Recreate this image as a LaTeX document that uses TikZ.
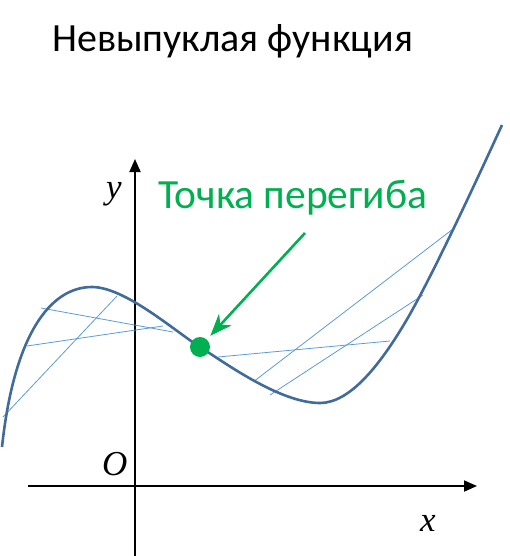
\documentclass[tikz,border=0pt]{standalone}
\usepackage{fontspec}
\setmainfont{Carlito}
\newfontfamily\axisfont{Liberation Serif}
\usetikzlibrary{arrows.meta}
\definecolor{curveblue}{RGB}{65,107,155}
\definecolor{chordblue}{RGB}{91,155,213}
\definecolor{markgreen}{RGB}{0,176,80}
\begin{document}
\begin{tikzpicture}[x=1pt, y=-1pt,
  axis/.style={-{Triangle[length=13pt,width=11pt]}, line width=1.8pt, black},
  curve/.style={line width=2.6pt, curveblue},
  chord/.style={line width=0.8pt, chordblue},
  axlabel/.style={font=\axisfont\itshape\fontsize{35}{40}\selectfont, inner sep=0pt, anchor=base west},
  greenarr/.style={-{Stealth[length=22pt,width=17pt,inset=7pt]}, line width=2.6pt, markgreen, shorten >=5pt}
]
  \useasboundingbox (0,0) rectangle (510,556);
  % title and label
  \node[anchor=base west, inner sep=0pt, font=\fontsize{40}{46}\selectfont] (title) at (52,52) {Невыпуклая функция};
  \node[anchor=base west, inner sep=0pt, text=markgreen, font=\fontsize{41.5}{48}\selectfont] (label) at (158,208) {Точка перегиба};
  % axes
  \coordinate (xstart) at (28,486);
  \coordinate (xend) at (477,486);
  \coordinate (ystart) at (135,556);
  \coordinate (yend) at (135,159);
  \draw[axis] (xstart) -- (xend);
  \draw[axis] (ystart) -- (yend);
  \node[axlabel] (ylab) at (106,198) {y};
  \node[axlabel] (olab) at (102,475) {O};
  \node[axlabel] (xlab) at (420,531) {x};
  % chords
  \coordinate (a1) at (41,308);  \coordinate (a2) at (173,332);
  \coordinate (b1) at (27,346);  \coordinate (b2) at (163,326);
  \coordinate (c1) at (3,417);   \coordinate (c2) at (117,296);
  \coordinate (d1) at (218,357); \coordinate (d2) at (390,341);
  \coordinate (e1) at (253,382); \coordinate (e2) at (453,229);
  \coordinate (f1) at (270,395); \coordinate (f2) at (423,295);
  \foreach \p in {a,b,c,d,e,f}
    \draw[chord] (\p1) -- (\p2);
  % the function
  \draw[curve] (2,447) .. controls (14,335) and (50,287) .. (92,287)
    .. controls (125,287) and (175,331.3) .. (200,347)
    .. controls (225,362.8) and (280,403) .. (320,403)
    .. controls (350,403) and (380,365) .. (406,321)
    .. controls (432,277) and (480,173) .. (502,125);
  % inflection point
  \node[circle, fill=markgreen, minimum size=20pt, inner sep=0pt] (infl) at (200,347) {};
  \coordinate (arrstart) at (305,233);
  \draw[greenarr] (arrstart) -- (infl);
\end{tikzpicture}
\end{document}
